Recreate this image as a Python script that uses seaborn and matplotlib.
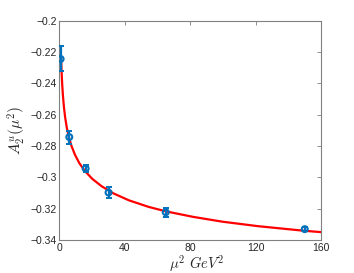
import numpy as np
import pandas as pd
import matplotlib
matplotlib.use("Agg")
import matplotlib.pyplot as plt
import seaborn as sns

# data points
mu2 = [0.7, 6.0, 16.0, 30.0, 65.0, 150.0]
A2 = [-0.2244, -0.2743, -0.2944, -0.3097, -0.3223, -0.3331]
A2_err = [0.0080, 0.0042, 0.0020, 0.0037, 0.0030, 0.0012]

# fitted curve
fit_x = [1.0, 1.284, 1.649, 2.117, 2.718, 3.49, 4.48, 5.8, 7.39, 9.49, 12.18, 15.6,
         20.09, 25.8, 33.1, 42.5, 54.6, 65.0, 81.5, 99.5, 121.5, 148.4, 160.0]
fit_y = [-0.2240, -0.2323, -0.2403, -0.2478, -0.2550, -0.2618, -0.2683, -0.2745,
         -0.2801, -0.2856, -0.2910, -0.2960, -0.3010, -0.3057, -0.3103, -0.3147,
         -0.3189, -0.3217, -0.3252, -0.3283, -0.3312, -0.3340, -0.3350]

xticks = [0, 40, 80, 120, 160]
yticks = [-0.34, -0.32, -0.30, -0.28, -0.26, -0.24, -0.22, -0.20]

sns.set_style("white")
plt.rcParams['font.family'] = ['Liberation Sans', 'DejaVu Sans']
plt.rcParams['mathtext.fontset'] = 'cm'

fig = plt.figure(figsize=(3.54, 2.73), dpi=100)
ax = fig.add_axes([0.168, 0.121, 0.739, 0.803])

df_fit = pd.DataFrame({"x": fit_x, "y": fit_y})
sns.lineplot(data=df_fit, x="x", y="y", ax=ax, color="#ff0000", linewidth=1.6, zorder=3)

blue = "#0072BD"
ax.errorbar(mu2, A2, yerr=A2_err, fmt='none', ecolor=blue, elinewidth=1.6, capsize=2.2, capthick=1.4, zorder=4)
df_pts = pd.DataFrame({"x": mu2, "y": A2})
sns.scatterplot(data=df_pts, x="x", y="y", ax=ax, marker='o', s=18, facecolor='none',
                edgecolor=blue, linewidth=1.5, zorder=5)

ax.set_xlim(0, 160)
ax.set_ylim(-0.34, -0.2)
ax.set_xticks(xticks)
ax.set_yticks(yticks)

def fmt(v):
    s = ('%.2f' % v).rstrip('0').rstrip('.')
    return s.replace('-', '\u2212')

ax.set_xticklabels([fmt(v) for v in xticks])
ax.set_yticklabels([fmt(v) for v in yticks])
ax.tick_params(direction='in', length=3, width=0.6, labelsize=7.5, colors='#262626',
               top=True, right=True, pad=2)
for sp in ax.spines.values():
    sp.set_visible(True)
    sp.set_color('#808080')
    sp.set_linewidth(0.8)
ax.tick_params(axis='both', color='#808080')

ax.set_xlabel(r'$\mu^2\ GeV^2$', fontsize=10.5)
ax.xaxis.set_label_coords(0.526, -0.062, transform=ax.transAxes)
ax.xaxis.label.set_verticalalignment('top')
ax.set_ylabel(r'$A_2^u(\mu^2)$', fontsize=11, labelpad=2)

fig.savefig("out.png", dpi=100)
